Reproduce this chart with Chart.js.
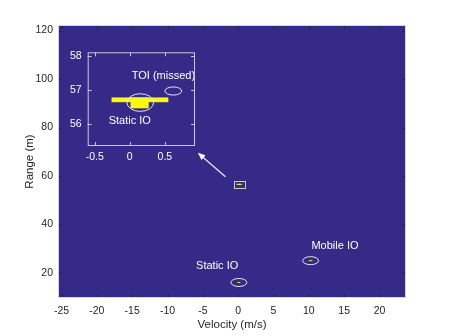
<!DOCTYPE html>
<html>
<head>
<meta charset="utf-8">
<script src="https://cdn.jsdelivr.net/npm/chart.js@4"></script>
<style>
  html, body { margin: 0; padding: 0; background: #fff; }
  #wrap { position: relative; width: 449px; height: 336px; }
  #main { position: absolute; left: 0; top: 0; }
  #inset { position: absolute; left: 58px; top: 40px; }
</style>
</head>
<body>
<div id="wrap">
  <canvas id="main" width="449" height="336"></canvas>
  <canvas id="inset" width="142" height="125"></canvas>
</div>
<script>
// axis limits
const velLimits = [-25.5, 23.75];
const rangeLimits = [9.7, 122.3];
const zoomVelLimits = [-0.6, 0.93];
const zoomRangeLimits = [55.36, 58.12];

// detections: [velMin, velMax, rangeMin, rangeMax]
const targetCells = [
  [-0.26, 0.55, 56.65, 56.79],
  [0.01, 0.27, 56.47, 56.79],
];
const otherCells = [
  [-0.1, 0.3, 15.9, 16.3],
  [10.0, 10.5, 24.9, 25.3],
];

// gates: [vel, range, velRadius, rangeRadius]
const mainGates = [
  [0.1, 16.1, 1.13, 1.65],
  [10.25, 25.1, 1.13, 1.65],
];
const zoomGates = [
  [0.15, 56.64, 0.19, 0.26],
  [0.62, 56.98, 0.12, 0.12],
];

// labels: [text, vel, range]
const mainLabels = [
  ["Static IO", -2.97, 23.0],
  ["Mobile IO", 13.7, 31.0],
];
const zoomLabels = [
  ["TOI (missed)", 0.48, 57.41],
  ["Static IO", 0.0, 56.09],
];

// arrow: [tailVel, tailRange, headVel, headRange]
const arrow = [-1.8, 59.7, -5.7, 69.6];

const bgBlue = "rgb(53,42,135)";
const yellow = "#f9fb0e";
const font = "'Liberation Sans', Arial, sans-serif";

function toPx(chart, v, r) {
  return [chart.scales.x.getPixelForValue(v), chart.scales.y.getPixelForValue(r)];
}

function drawCells(chart, cells) {
  const ctx = chart.ctx;
  ctx.fillStyle = yellow;
  cells.forEach((c) => {
    const [x1, y1] = toPx(chart, c[0], c[3]);
    const [x2, y2] = toPx(chart, c[1], c[2]);
    ctx.fillRect(x1, y1, Math.max(x2 - x1, 1), Math.max(y2 - y1, 1));
  });
}

function drawGates(chart, gates) {
  const ctx = chart.ctx;
  ctx.strokeStyle = "#e6e6f0";
  ctx.lineWidth = 1;
  gates.forEach((g) => {
    const [cx, cy] = toPx(chart, g[0], g[1]);
    const [ex, ey] = toPx(chart, g[0] + g[2], g[1] + g[3]);
    ctx.beginPath();
    ctx.ellipse(cx, cy, Math.abs(ex - cx), Math.abs(cy - ey), 0, 0, Math.PI * 2);
    ctx.stroke();
  });
}

function drawLabels(chart, labels) {
  const ctx = chart.ctx;
  ctx.fillStyle = "#ffffff";
  ctx.font = "11px " + font;
  ctx.textAlign = "center";
  ctx.textBaseline = "middle";
  labels.forEach((l) => {
    const [x, y] = toPx(chart, l[1], l[2]);
    ctx.fillText(l[0], x, y);
  });
}

function drawInnerTicks(chart, color) {
  const ctx = chart.ctx;
  const a = chart.chartArea;
  ctx.strokeStyle = color;
  ctx.lineWidth = 1;
  ctx.beginPath();
  chart.scales.x.ticks.forEach((t) => {
    const x = Math.round(chart.scales.x.getPixelForValue(t.value)) + 0.5;
    ctx.moveTo(x, a.bottom); ctx.lineTo(x, a.bottom - 4);
    ctx.moveTo(x, a.top); ctx.lineTo(x, a.top + 4);
  });
  chart.scales.y.ticks.forEach((t) => {
    const y = Math.round(chart.scales.y.getPixelForValue(t.value)) + 0.5;
    ctx.moveTo(a.left, y); ctx.lineTo(a.left + 4, y);
    ctx.moveTo(a.right, y); ctx.lineTo(a.right - 4, y);
  });
  ctx.stroke();
}

const backdrop = {
  id: "backdrop",
  beforeDraw(chart) {
    const a = chart.chartArea;
    chart.ctx.save();
    chart.ctx.fillStyle = bgBlue;
    chart.ctx.fillRect(a.left, a.top, a.right - a.left, a.bottom - a.top);
    chart.ctx.restore();
  },
};

const mainMarks = {
  id: "mainMarks",
  afterDatasetsDraw(chart) {
    const ctx = chart.ctx;
    const a = chart.chartArea;
    ctx.save();
    drawCells(chart, otherCells);
    drawCells(chart, targetCells);
    drawGates(chart, mainGates);
    drawLabels(chart, mainLabels);

    // zoom window
    const [zx1, zy1] = toPx(chart, zoomVelLimits[0], zoomRangeLimits[1]);
    const [zx2, zy2] = toPx(chart, zoomVelLimits[1], zoomRangeLimits[0]);
    ctx.strokeStyle = "#c8c8d8";
    ctx.strokeRect(Math.round(zx1) + 0.5, Math.round(zy1) + 0.5, Math.round(zx2 - zx1), Math.round(zy2 - zy1));

    // arrow
    const [tx, ty] = toPx(chart, arrow[0], arrow[1]);
    const [hx, hy] = toPx(chart, arrow[2], arrow[3]);
    const ang = Math.atan2(hy - ty, hx - tx);
    ctx.strokeStyle = "#e8e8f2";
    ctx.fillStyle = "#ffffff";
    ctx.lineWidth = 1.3;
    ctx.beginPath();
    ctx.moveTo(tx, ty);
    ctx.lineTo(hx - 4 * Math.cos(ang), hy - 4 * Math.sin(ang));
    ctx.stroke();
    ctx.beginPath();
    ctx.moveTo(hx, hy);
    ctx.lineTo(hx - 8 * Math.cos(ang - 0.4), hy - 8 * Math.sin(ang - 0.4));
    ctx.lineTo(hx - 8 * Math.cos(ang + 0.4), hy - 8 * Math.sin(ang + 0.4));
    ctx.closePath();
    ctx.fill();

    drawInnerTicks(chart, "#262626");
    ctx.strokeStyle = "#d6d6d6";
    ctx.lineWidth = 1;
    ctx.strokeRect(a.left + 0.5, a.top + 0.5, a.right - a.left - 1, a.bottom - a.top - 1);
    ctx.restore();
  },
};

const insetMarks = {
  id: "insetMarks",
  afterDatasetsDraw(chart) {
    const ctx = chart.ctx;
    const a = chart.chartArea;
    ctx.save();
    drawCells(chart, targetCells);
    drawGates(chart, zoomGates);
    drawLabels(chart, zoomLabels);
    drawInnerTicks(chart, "#c8c8d8");
    ctx.strokeStyle = "#c8c8d8";
    ctx.lineWidth = 1;
    ctx.strokeRect(a.left + 0.5, a.top + 0.5, a.right - a.left - 1, a.bottom - a.top - 1);
    ctx.restore();
  },
};

new Chart(document.getElementById("main"), {
  type: "scatter",
  data: { datasets: [{ data: [], pointRadius: 0 }] },
  options: {
    responsive: false,
    animation: false,
    devicePixelRatio: 1,
    layout: { padding: { top: 25, right: 43, left: 0, bottom: 0 } },
    plugins: { legend: { display: false }, tooltip: { enabled: false } },
    scales: {
      x: {
        type: "linear",
        min: velLimits[0],
        max: velLimits[1],
        grid: { display: false, drawTicks: false },
        border: { display: false },
        ticks: { stepSize: 5, includeBounds: false, padding: 7, color: "#262626", font: { family: font, size: 10.5 } },
        title: { display: true, text: "Velocity (m/s)", color: "#262626", font: { family: font, size: 11.5 }, padding: { top: 0, bottom: 4 } },
        afterFit(scale) { scale.height = 38; },
      },
      y: {
        type: "linear",
        min: rangeLimits[0],
        max: rangeLimits[1],
        grid: { display: false, drawTicks: false },
        border: { display: false },
        ticks: { stepSize: 20, includeBounds: false, padding: 5, color: "#262626", font: { family: font, size: 10.5 } },
        title: { display: true, text: "Range (m)", color: "#262626", font: { family: font, size: 11.5 }, padding: { top: 23, bottom: 0 } },
        afterFit(scale) { scale.width = 58; },
      },
    },
  },
  plugins: [backdrop, mainMarks],
});

new Chart(document.getElementById("inset"), {
  type: "scatter",
  data: { datasets: [{ data: [], pointRadius: 0 }] },
  options: {
    responsive: false,
    animation: false,
    devicePixelRatio: 1,
    layout: { padding: { top: 5, right: 5, left: 0, bottom: 0 } },
    plugins: { legend: { display: false }, tooltip: { enabled: false } },
    scales: {
      x: {
        type: "linear",
        min: zoomVelLimits[0],
        max: zoomVelLimits[1],
        grid: { display: false, drawTicks: false },
        border: { display: false },
        ticks: { stepSize: 0.5, includeBounds: false, padding: 5, color: "#ffffff", font: { family: font, size: 10.5 } },
        afterFit(scale) { scale.height = 19; },
      },
      y: {
        type: "linear",
        min: zoomRangeLimits[0],
        max: zoomRangeLimits[1],
        grid: { display: false, drawTicks: false },
        border: { display: false },
        ticks: { stepSize: 1, includeBounds: false, padding: 6, color: "#ffffff", font: { family: font, size: 10.5 } },
        afterFit(scale) { scale.width = 29.7; },
      },
    },
  },
  plugins: [backdrop, insetMarks],
});
</script>
</body>
</html>
